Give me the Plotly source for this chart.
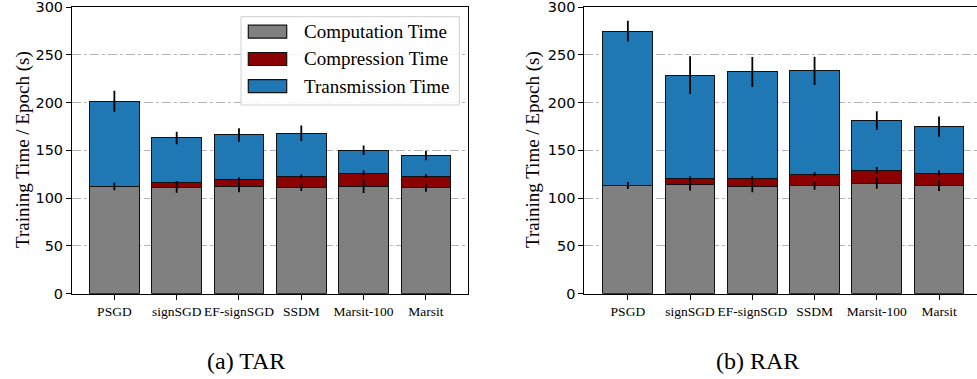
import plotly.graph_objects as go

methods = ["PSGD", "signSGD", "EF-signSGD", "SSDM", "Marsit-100", "Marsit"]
series_names = ["Computation Time", "Compression Time", "Transmission Time"]
series_colors = ["#808080", "#8b0000", "#1f77b4"]

# (a) TAR
tar_comp = [112.2, 111.2, 112.2, 111.5, 112.5, 111.2]
tar_compr = [0.0, 5.2, 7.6, 11.2, 13.3, 11.8]
tar_trans = [89.2, 46.6, 46.3, 45.2, 24.4, 21.6]
tar_comp_err = [4.0, 5.5, 6.0, 4.0, 7.0, 4.6]
tar_compr_err = [0.0, 1.5, 2.0, 2.0, 3.0, 2.0]
tar_trans_err = [11.0, 6.5, 7.0, 8.0, 5.0, 5.0]

# (b) RAR
rar_comp = [113.3, 114.0, 112.2, 112.9, 115.4, 113.3]
rar_compr = [0.0, 6.6, 8.4, 12.2, 13.6, 12.6]
rar_trans = [161.5, 108.1, 111.5, 108.1, 52.0, 48.9]
rar_comp_err = [3.7, 6.0, 6.0, 4.0, 5.6, 5.8]
rar_compr_err = [0.0, 2.0, 2.0, 2.0, 3.5, 3.0]
rar_trans_err = [10.8, 19.8, 15.7, 14.7, 9.8, 10.5]

y_ticks = [0, 50, 100, 150, 200, 250, 300]
panel_titles = ["(a) TAR", "(b) RAR"]
y_title = "Training Time / Epoch (s)"

W, H = 977, 379
SERIF = "Liberation Serif, Times New Roman, serif"
SANS = "DejaVu Sans, sans-serif"

def px(x):
    return x / W

def py(y):
    return 1 - y / H

fig = go.Figure()
panels = [
    ("x", "y", [tar_comp, tar_compr, tar_trans], [tar_comp_err, tar_compr_err, tar_trans_err]),
    ("x2", "y2", [rar_comp, rar_compr, rar_trans], [rar_comp_err, rar_compr_err, rar_trans_err]),
]
for xa, ya, vals, errs in panels:
    for name, color, v in zip(series_names, series_colors, vals):
        fig.add_trace(go.Bar(
            x=methods, y=v, name=name, xaxis=xa, yaxis=ya,
            width=0.8, showlegend=False,
            marker=dict(color=color, line=dict(color="#111111", width=1)),
        ))
# error bars drawn on top, at the top of each stacked segment
for xa, ya, vals, errs in panels:
    cum = [0.0] * len(methods)
    for v, e in zip(vals, errs):
        cum = [c + vi for c, vi in zip(cum, v)]
        fig.add_trace(go.Scatter(
            x=methods, y=list(cum), xaxis=xa, yaxis=ya, mode="markers",
            marker=dict(size=1, color="rgba(0,0,0,0)"), showlegend=False,
            hoverinfo="skip",
            error_y=dict(type="data", array=e, visible=True, color="black",
                         thickness=1.8, width=0),
        ))

ydom = [py(293.7), py(7.0)]
axis_common = dict(showline=True, linecolor="black", linewidth=1, mirror=True,
                   ticks="outside", ticklen=5, tickcolor="black", tickwidth=1,
                   automargin=False)
xaxis_common = dict(axis_common, type="category", showgrid=False, tickangle=0,
                    tickfont=dict(family=SERIF, size=13.5, color="black"))
yaxis_common = dict(axis_common, range=[0, 300], tickvals=y_ticks,
                    showgrid=True, gridcolor="#b5b5b5", gridwidth=0.8,
                    griddash="dashdot", zeroline=False, ticklabeloverflow="allow",
                    tickfont=dict(family=SANS, size=14.5, color="black"))

fig.update_layout(
    width=W, height=H, barmode="stack",
    margin=dict(l=0, r=0, t=0, b=0, autoexpand=False),
    paper_bgcolor="white", plot_bgcolor="white",
    xaxis=dict(xaxis_common, domain=[px(72), px(468.3)], range=[-0.68, 5.68], anchor="y"),
    yaxis=dict(yaxis_common, domain=ydom, anchor="x"),
    xaxis2=dict(xaxis_common, domain=[px(584.3), 1.0], range=[-0.70, 5.61], anchor="y2"),
    yaxis2=dict(yaxis_common, domain=ydom, anchor="x2"),
)

annotations = []
# y titles
for xc in (23, 533):
    annotations.append(dict(text=y_title, x=px(xc), y=py(150), xref="paper", yref="paper",
                            textangle=-90, showarrow=False, xanchor="center", yanchor="middle",
                            font=dict(family=SERIF, size=19, color="black")))
# panel titles
for xc, t in zip((246, 757.5), panel_titles):
    annotations.append(dict(text=t, x=px(xc), y=py(361), xref="paper", yref="paper",
                            showarrow=False, xanchor="center", yanchor="middle",
                            font=dict(family=SERIF, size=24, color="black")))

# manual legend (matplotlib style)
shapes = [dict(type="rect", xref="paper", yref="paper",
               x0=px(241), x1=px(459.3), y0=py(105), y1=py(16.7),
               line=dict(color="#d0d0d0", width=1), fillcolor="rgba(255,255,255,0.85)",
               layer="above")]
row_y = [31.7, 59.0, 86.2]
for ry, name, color in zip(row_y, series_names, series_colors):
    shapes.append(dict(type="rect", xref="paper", yref="paper",
                       x0=px(248.3), x1=px(286.7), y0=py(ry + 6.5), y1=py(ry - 6.5),
                       line=dict(color="#111111", width=1.2), fillcolor=color, layer="above"))
    annotations.append(dict(text=name, x=px(302), y=py(ry), xref="paper", yref="paper",
                            showarrow=False, xanchor="left", yanchor="middle",
                            font=dict(family=SERIF, size=19, color="black")))

fig.update_layout(annotations=annotations, shapes=shapes)
fig.write_html(
    "out.html",
    config={"displayModeBar": False},
    post_script="document.body.style.margin='0';document.body.style.padding='0';"
                "document.body.style.overflow='hidden';",
)
